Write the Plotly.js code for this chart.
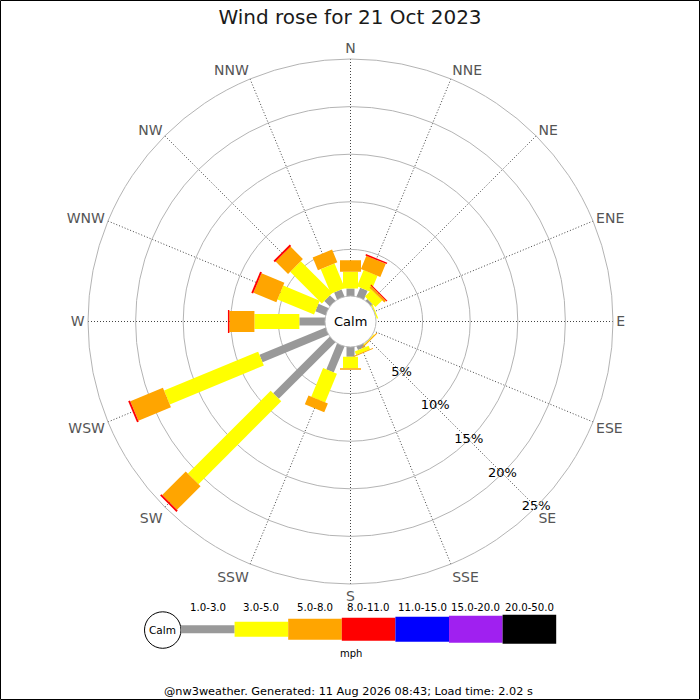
<!DOCTYPE html>
<html>
<head>
<meta charset="utf-8">
<script src="https://cdn.plot.ly/plotly-3.0.1.min.js"></script>
<style>html,body{margin:0;padding:0;background:#fff}#chart{width:700px;height:700px}</style>
</head>
<body>
<div id="chart"></div>
<script>
// ---------- data ----------
const directions = ['N','NNE','NE','ENE','E','ESE','SE','SSE','S','SSW','SW','WSW','W','WNW','NW','NNW'];
const speedClasses = ['1.0-3.0','3.0-5.0','5.0-8.0','8.0-11.0','11.0-15.0','15.0-20.0','20.0-50.0'];
// percent of time per direction, by speed class (mph)
const pct_1_3   = [0.9, 1.1, 0.35, 0.1, 0, 0, 0.1, 0.5, 1.12, 3.05, 8.5, 7.6, 2.8, 1.25, 0.9, 0.9];
const pct_3_5   = [1.75, 1.85, 1.0, 0.15, 0, 0, 0.1, 0.4, 1.22, 3.25, 12.3, 10.7, 4.72, 4.15, 4.7, 2.8];
const pct_5_8   = [1.2, 1.5, 0.25, 0, 0, 0, 0.1, 0.1, 0.15, 1.0, 3.5, 3.7, 2.63, 2.6, 1.85, 1.45];
const pct_8_11  = [0, 0.15, 0.1, 0, 0, 0, 0, 0, 0, 0, 0.2, 0.2, 0.15, 0.2, 0.2, 0];
const pct_11_15 = [0,0,0,0,0,0,0,0,0,0,0,0,0,0,0,0];
const pct_15_20 = [0,0,0,0,0,0,0,0,0,0,0,0,0,0,0,0];
const pct_20_50 = [0,0,0,0,0,0,0,0,0,0,0,0,0,0,0,0];
const radialTickVals = [5, 10, 15, 20, 25];
const radialTickText = ['5%', '10%', '15%', '20%', '25%'];
const radialLabelDirection = 'SE';
const titleText = 'Wind rose for 21 Oct 2023';
const unitText = 'mph';
const calmText = 'Calm';
const footerText = '@nw3weather. Generated: 11 Aug 2026 08:43; Load time: 2.02 s';

// ---------- styles ----------
const series = [pct_1_3, pct_3_5, pct_5_8, pct_8_11, pct_11_15, pct_15_20, pct_20_50];
const classColors = ['#999999', '#ffff00', '#ffa500', '#ff0000', '#0000ff', '#a020f0', '#000000'];
const classWidths = [8, 15, 21, 23, 25, 27, 29];
const FONT = 'DejaVu Sans, Verdana, sans-serif';

// ---------- traces: stacked segments per class ----------
const traces = [];
const cum = directions.map(() => 0);
series.forEach((vals, k) => {
  const r = [], th = [];
  vals.forEach((v, i) => {
    if (v > 0) {
      r.push(cum[i], cum[i] + v, null);
      th.push(directions[i], directions[i], null);
    }
    cum[i] += v;
  });
  traces.push({
    type: 'scatterpolar', mode: 'lines', r: r, theta: th,
    connectgaps: false,
    line: {color: classColors[k], width: classWidths[k]},
    hoverinfo: 'skip', showlegend: false
  });
});
// radial tick labels placed along the SE spoke
traces.push({
  type: 'scatterpolar', mode: 'text',
  r: radialTickVals, theta: radialTickVals.map(() => radialLabelDirection),
  text: radialTickText, textposition: 'middle center',
  textfont: {family: FONT, size: 13, color: '#000'},
  hoverinfo: 'skip', showlegend: false, cliponaxis: false
});

// ---------- geometry helpers (pixels -> paper) ----------
const W = 700, H = 700;
const px = x => x / W, py = y => 1 - y / H;
const CX = 350.5, CY = 321.5, R = 262.5, HOLE = 24.5;

const shapes = [];
const annotations = [];
// frame
shapes.push({type: 'rect', xref: 'paper', yref: 'paper', x0: px(0.5), x1: px(699.5), y0: py(0.5), y1: py(699.5),
  line: {color: '#000', width: 1}, fillcolor: 'rgba(0,0,0,0)'});
// calm circle in centre
shapes.push({type: 'circle', xref: 'paper', yref: 'paper', x0: px(CX - 25.5), x1: px(CX + 25.5), y0: py(CY - 25.5), y1: py(CY + 25.5),
  line: {color: '#bbbbbb', width: 1}, fillcolor: '#ffffff', layer: 'above'});
annotations.push({xref: 'paper', yref: 'paper', x: px(CX), y: py(CY), text: calmText, showarrow: false,
  xanchor: 'center', yanchor: 'middle', font: {family: FONT, size: 13, color: '#000'}});

// legend bar
const legX0 = 181, legW = 53.6, legCY = 629.2;
shapes.push({type: 'circle', xref: 'paper', yref: 'paper', x0: px(144.5), x1: px(181), y0: py(611.8), y1: py(648.3),
  line: {color: '#000', width: 1}, fillcolor: '#fff'});
annotations.push({xref: 'paper', yref: 'paper', x: px(162.8), y: py(630), text: calmText, showarrow: false,
  xanchor: 'center', yanchor: 'middle', font: {family: FONT, size: 10.5, color: '#000'}});
speedClasses.forEach((lab, k) => {
  const x0 = legX0 + k * legW, h = classWidths[k];
  shapes.push({type: 'rect', xref: 'paper', yref: 'paper', x0: px(x0), x1: px(x0 + legW),
    y0: py(legCY - h / 2), y1: py(legCY + h / 2), line: {width: 0}, fillcolor: classColors[k]});
  annotations.push({xref: 'paper', yref: 'paper', x: px(x0 + legW / 2), y: py(607), text: lab, showarrow: false,
    xanchor: 'center', yanchor: 'middle', font: {family: FONT, size: 10.2, color: '#000'}});
});
annotations.push({xref: 'paper', yref: 'paper', x: px(351), y: py(653.5), text: unitText, showarrow: false,
  xanchor: 'center', yanchor: 'middle', font: {family: FONT, size: 10, color: '#000'}});
annotations.push({xref: 'paper', yref: 'paper', x: px(348), y: py(691.5), text: footerText, showarrow: false,
  xanchor: 'center', yanchor: 'middle', font: {family: FONT, size: 11.3, color: '#000'}});

const layout = {
  width: W, height: H,
  margin: {l: 0, r: 0, t: 0, b: 0, pad: 0},
  paper_bgcolor: '#fff',
  showlegend: false,
  title: {text: titleText, x: 0.5, xref: 'paper', y: py(17), yref: 'paper', xanchor: 'center', yanchor: 'middle',
    font: {family: FONT, size: 20, color: '#1a1a1a'}},
  polar: {
    domain: {x: [px(CX - R), px(CX + R)], y: [py(CY + R), py(CY - R)]},
    bgcolor: 'rgba(0,0,0,0)',
    hole: HOLE / R,
    radialaxis: {
      range: [0, 25], tickvals: [5, 10, 15, 20], showticklabels: false, ticks: '',
      showline: false, gridcolor: '#b4b4b4', gridwidth: 1
    },
    angularaxis: {
      type: 'category', categoryorder: 'array', categoryarray: directions,
      rotation: 90, direction: 'clockwise',
      showline: true, linecolor: '#b4b4b4', linewidth: 1,
      gridcolor: '#444444', gridwidth: 1, griddash: '1px,2px',
      ticks: '', tickfont: {family: FONT, size: 14, color: '#555555'}
    }
  },
  shapes: shapes,
  annotations: annotations
};

Plotly.newPlot('chart', traces, layout, {displayModeBar: false, staticPlot: true});
</script>
</body>
</html>
